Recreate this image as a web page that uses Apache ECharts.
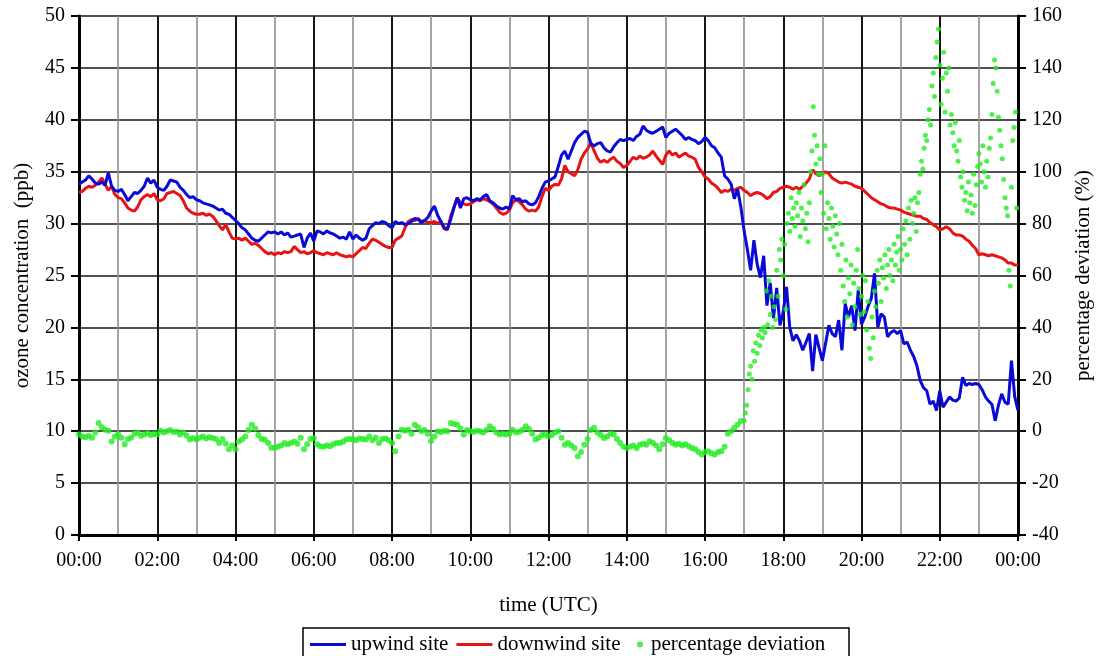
<!DOCTYPE html>
<html>
<head>
<meta charset="utf-8">
<script src="https://cdn.jsdelivr.net/npm/echarts@6/dist/echarts.min.js"></script>
<style>
  html, body { margin: 0; padding: 0; background: #fff; }
  #chart { width: 1098px; height: 656px; }
</style>
</head>
<body>
<div id="chart"></div>
<script>
// Ozone at the two sites, one value every 5 minutes from 00:00 to 24:00 (ppb)
const upwindSite = [
  33.8, 34.0, 34.2, 34.6, 34.3, 33.9, 33.8, 34.0, 33.7, 34.9, 33.6, 33.2,
  33.1, 33.3, 32.8, 32.2, 32.6, 33.0, 32.9, 33.2, 33.6, 34.4, 33.9, 34.2,
  33.5, 33.3, 33.2, 33.6, 34.2, 34.1, 34.0, 33.5, 33.2, 32.8, 32.5, 32.6,
  32.3, 32.2, 32.0, 31.9, 31.8, 31.7, 31.5, 31.3, 31.4, 31.0, 30.9, 30.6,
  30.3, 30.0, 29.6, 29.4, 29.0, 28.6, 28.4, 28.3, 28.6, 28.9, 29.2, 29.1,
  29.2, 29.0, 29.2, 28.9, 29.1, 28.7, 28.8, 28.9, 29.0, 27.7, 28.6, 29.1,
  28.3, 29.3, 29.2, 29.0, 29.3, 29.1, 29.0, 28.8, 28.6, 28.7, 28.5, 29.2,
  28.5, 28.9, 28.6, 28.4, 28.6, 29.5, 29.8, 30.1, 30.0, 30.2, 30.1, 29.8,
  29.6, 30.2, 30.0, 30.1, 29.9, 30.0, 30.2, 30.5, 30.4, 30.1, 30.3, 30.6,
  31.2, 31.7, 30.8, 30.2, 29.6, 29.5, 30.4, 31.5, 32.5, 31.5, 32.4, 32.5,
  32.3, 32.2, 32.4, 32.3, 32.6, 32.8, 32.2, 32.0, 31.7, 31.5, 31.4, 31.6,
  31.4, 32.7, 32.3, 32.4, 32.1, 32.2, 31.9, 31.8, 32.0, 32.6, 33.4, 34.0,
  34.1, 34.3, 34.5, 35.5, 36.6, 37.0, 36.2, 37.0, 37.8, 38.3, 38.6, 38.9,
  38.8, 37.7, 37.5, 37.7, 37.8, 37.3, 37.0, 36.9, 37.4, 37.8, 38.1, 38.0,
  38.1, 38.2, 38.0, 38.4, 38.6, 39.4, 39.0, 38.8, 38.7, 38.9, 39.1, 39.3,
  38.3, 38.7, 38.9, 39.1, 38.8, 38.5, 38.1, 38.3, 38.1, 38.0, 37.7, 37.9,
  38.3, 38.0, 37.5, 37.3, 36.8, 36.4, 34.6, 34.3, 33.8, 32.4, 33.3, 31.6,
  29.3, 27.5, 25.5, 28.4, 26.1, 24.8, 26.9, 22.1, 24.3, 20.9, 23.8, 20.2,
  21.5, 23.9, 20.0, 18.7, 19.3, 18.7, 17.8, 18.6, 19.4, 15.8, 19.3, 18.0,
  16.8, 18.5, 20.2, 19.4, 19.1, 20.7, 17.8, 22.3, 21.0, 22.1, 19.7, 23.6,
  20.3, 21.0, 22.0, 22.8, 25.2, 20.0, 21.3, 21.0, 19.1, 19.5, 19.7, 19.4,
  19.7, 18.4, 18.6, 17.8, 17.2, 16.3, 14.9, 14.2, 13.9, 12.6, 12.9, 12.0,
  13.9, 12.3, 12.8, 13.3, 13.0, 12.9, 13.2, 15.2, 14.4, 14.6, 14.5, 14.6,
  14.5, 14.0, 13.3, 12.9, 12.6, 11.0, 12.5, 13.6, 12.8, 12.6, 16.8, 13.3,
  12.0
];

const downwindSite = [
  33.0, 33.1, 33.4, 33.6, 33.5, 33.7, 34.0, 34.4, 33.8, 33.2, 33.6, 32.8,
  32.5, 32.4, 32.0, 31.5, 31.3, 31.2, 31.6, 32.3, 32.6, 32.8, 32.6, 32.9,
  32.3, 32.2, 32.4, 32.9, 33.0, 33.1, 32.9, 32.7, 32.2, 31.5, 31.2, 31.0,
  30.9, 30.9, 31.0, 30.8, 30.9, 30.7, 30.3, 29.8, 29.4, 29.9, 29.2, 28.6,
  28.5, 28.6, 28.4, 28.6, 28.3, 28.0, 28.1, 27.9, 27.6, 27.3, 27.1, 27.2,
  27.0, 27.2, 27.1, 27.3, 27.2, 27.3, 27.8, 27.5, 27.2, 27.3, 27.1, 27.2,
  27.4, 27.2, 27.1, 27.0, 27.2, 27.1, 27.0, 27.2, 27.0, 26.9, 26.8, 26.9,
  26.8, 27.1, 27.4, 27.7, 27.6, 28.1, 28.5, 28.4, 28.2, 28.0, 27.8, 27.7,
  27.7, 28.4, 28.6, 28.8, 29.6, 30.2, 30.4, 30.3, 30.5, 30.2, 30.3, 30.1,
  30.1, 30.2, 30.0, 30.2, 29.5, 29.4, 30.7, 31.6, 32.5, 32.0, 31.9, 31.8,
  31.9, 32.1, 32.3, 32.2, 32.4, 32.3, 32.1, 31.9, 31.5, 31.1, 30.9, 31.0,
  31.3, 32.0, 32.3, 32.1, 31.8, 31.4, 31.2, 31.3, 31.2, 31.6, 32.6, 33.4,
  33.2, 33.6, 33.8, 33.7, 34.3, 35.6, 35.0, 34.8, 34.6, 35.2, 36.2, 36.8,
  37.2, 37.8, 37.0, 36.3, 35.9, 36.1, 35.9, 36.2, 36.4, 36.0, 35.8, 35.4,
  35.6, 36.0, 36.4, 36.2, 36.5, 36.3, 36.4, 36.6, 37.0, 36.5, 36.1, 35.7,
  36.6, 37.0, 36.6, 36.8, 36.4, 36.6, 36.8, 36.5, 36.4, 36.2, 35.4, 35.0,
  34.5, 34.3, 33.9, 33.7, 33.4, 33.0, 33.2, 33.1, 33.3, 33.2, 33.4, 33.5,
  33.2, 33.0, 32.7, 32.9, 33.0, 32.9, 32.7, 32.4, 32.6, 33.0, 33.1, 33.4,
  33.5, 33.6, 33.5, 33.3, 33.5, 33.3, 33.6, 33.9, 34.3, 35.2, 34.8, 34.6,
  34.8, 35.0, 34.8, 34.4, 34.2, 34.0, 33.9, 34.0, 33.9, 33.8, 33.6, 33.5,
  33.4, 33.1, 32.8, 32.5, 32.3, 32.1, 31.9, 31.8, 31.6, 31.5, 31.5, 31.4,
  31.3, 31.1, 31.0, 30.9, 30.8, 30.7, 30.7, 30.5, 30.4, 30.1, 29.9, 29.7,
  29.4, 29.5, 29.7, 29.5, 29.1, 28.9, 28.9, 28.8, 28.5, 28.3, 27.9, 27.6,
  27.0, 27.1, 27.0, 26.9, 27.0, 26.9, 26.8, 26.7, 26.5, 26.2, 26.2, 26.0,
  26.0
];

// Percentage deviation, every 5 minutes from 00:00 to 16:55 (%)
const deviationDay = [
  -1.3, -2.0, -2.3, -1.8, -2.5, -0.5, 3.2, 1.5, 0.6, 0.2, -4.0, -2.0,
  -1.3, -2.5, -5.0, -3.0, -2.5, -1.0, -0.6, -1.8, -1.3, -0.8, -1.5, -1.2,
  -1.3, 0.2, -0.5, 0.0, 0.5, -0.3, -0.2, -1.3, -0.5, -1.8, -3.2, -2.6,
  -3.2, -2.5, -2.0, -2.8, -2.3, -2.6, -3.0, -4.5, -3.0, -4.8, -7.0, -5.5,
  -7.0, -4.0, -3.2, -2.0, 0.5, 2.5, 1.0, -1.5, -3.0, -3.2, -4.5, -6.4,
  -6.4, -6.0, -5.5, -4.5, -5.0, -4.5, -4.0, -4.8, -2.5, -7.0, -5.0, -3.0,
  -2.6, -5.0, -5.8, -6.0, -5.5, -5.8, -5.0, -4.5, -4.5, -4.0, -3.2, -3.0,
  -3.2, -3.5, -2.8, -3.0, -3.2, -2.0, -3.5, -2.5, -4.5, -3.0, -2.8, -3.5,
  -4.5, -7.7, -2.0, 0.6, 0.2, 0.6, -1.0, 2.5, 1.5, 0.0, 0.5, -1.0,
  -3.8, -2.0, 0.0, -0.3, 0.2, 0.0, 3.2, 2.8, 2.5, 1.0, -1.3, 0.5,
  0.0, -0.3, 0.2, 0.0, -0.5, 0.5, 1.9, 0.8, -0.5, -1.3, -1.0, -1.3,
  -1.0, 0.6, -0.5, -0.2, 0.5, 1.9, 0.8, -1.0, -3.2, -2.5, -1.5, -1.3,
  -2.0, -1.5, -0.5, 0.0, -2.5, -5.2, -4.5, -5.5, -6.5, -9.7, -8.0, -5.2,
  -3.0, 0.5, 1.3, -0.5, -1.5, -2.6, -2.0, -1.0, -1.3, -3.0, -4.5, -6.0,
  -6.5, -6.0, -5.5, -6.5, -5.2, -4.8, -5.2, -3.9, -4.5, -5.5, -7.0, -5.0,
  -2.6, -3.5, -4.5, -5.2, -4.8, -5.5, -5.0, -5.8, -6.5, -7.0, -8.0, -9.0,
  -8.0, -7.7, -8.5, -9.0, -8.0, -7.7, -6.0, -1.0, 0.0, 1.3, 2.5, 3.9
];

// Percentage deviation, every 2 minutes from 17:00 to 23:58 (%)
const deviationEvening = [
  4, 7, 10, 16, 22, 25, 20, 31, 27, 34, 30, 37, 33, 39, 36,
  40, 38, 54, 41, 58, 45, 52, 40, 48, 43, 62, 52, 70, 66, 74,
  60, 72, 47, 80, 84, 77, 90, 82, 86, 79, 88, 83, 92, 75, 86,
  81, 95, 78, 84, 73, 88, 100, 108, 125, 114, 103, 110, 99, 105, 92,
  99, 84, 110, 78, 88, 82, 74, 86, 79, 71, 83, 76, 68, 80, 62,
  72, 56, 50, 66, 44, 59, 53, 64, 41, 57, 48, 62, 70, 55, 45,
  52, 60, 46, 58, 39, 50, 32, 28, 44, 36, 54, 48, 62, 57, 66,
  50, 63, 59, 68, 55, 64, 70, 60, 66, 58, 72, 64, 69, 75, 62,
  70, 66, 78, 72, 81, 68, 86, 74, 89, 80, 84, 90, 77, 88, 92,
  99, 104, 101, 109, 114, 112, 120, 124, 118, 133, 138, 129, 144, 150, 155,
  141, 126, 136, 146, 123, 138, 131, 140, 118, 122, 115, 110, 119, 108, 104,
  112, 98, 94, 100, 89, 92, 85, 96, 88, 91, 84, 99, 87, 95, 102,
  107, 103, 96, 110, 100, 94, 104, 98, 109, 113, 122, 134, 143, 140, 131,
  121, 116, 110, 105, 97, 90, 86, 83, 62, 56, 94, 112, 117, 123, 86
];

// Axis ticks
const ppbTicks = { min: 0, max: 50, step: 5 };
const pctTicks = { min: -40, max: 160, step: 20 };
const hourTicks = { min: 0, max: 24, step: 2 };

const FONT = "'Liberation Serif', 'Times New Roman', serif";
const BLUE = '#0a0ad8';
const RED = '#e81414';
const GREEN = '#22ec22';

const concPairs = (arr) => arr.map((v, i) => [i * 5 / 60, v]);
const deviationPoints = deviationDay.map((v, i) => [i * 5 / 60, v])
  .concat(deviationEvening.map((v, i) => [17 + i * 2 / 60, v]));

const hourLabel = (v) => {
  const h = Math.round(v) % 24;
  return (h < 10 ? '0' : '') + h + ':00';
};

const textBase = { fontFamily: FONT, color: '#000' };

const chart = echarts.init(document.getElementById('chart'), null, { renderer: 'canvas' });

chart.setOption({
  animation: false,
  backgroundColor: '#fff',
  grid: { left: 79, right: 80, top: 16, bottom: 121, containLabel: false, outerBoundsMode: 'none' },
  xAxis: {
    type: 'value',
    min: hourTicks.min, max: hourTicks.max, interval: hourTicks.step,
    name: 'time (UTC)', nameLocation: 'middle', nameGap: 60,
    nameTextStyle: Object.assign({ fontSize: 21 }, textBase),
    axisLine: { show: true, onZero: false, lineStyle: { color: '#000', width: 3 } },
    axisTick: { show: true, length: 6, lineStyle: { color: '#000', width: 2 } },
    axisLabel: Object.assign({ fontSize: 20, margin: 16, formatter: hourLabel }, textBase),
    splitLine: { show: true, lineStyle: { color: '#161616', width: 2 } },
    minorTick: { show: false, splitNumber: 2 },
    minorSplitLine: { show: true, lineStyle: { color: '#8e8e8e', width: 1.6 } }
  },
  yAxis: [
    {
      type: 'value', position: 'left',
      min: ppbTicks.min, max: ppbTicks.max, interval: ppbTicks.step,
      name: 'ozone concentration  (ppb)', nameLocation: 'middle', nameGap: 46, nameRotate: 90,
      nameTextStyle: Object.assign({ fontSize: 21 }, textBase),
      axisLine: { show: true, onZero: false, lineStyle: { color: '#000', width: 3 } },
      axisTick: { show: true, length: 8, lineStyle: { color: '#000', width: 2 } },
      axisLabel: Object.assign({ fontSize: 20, margin: 14 }, textBase),
      splitLine: { show: true, lineStyle: { color: '#161616', width: 1.6 } }
    },
    {
      type: 'value', position: 'right',
      min: pctTicks.min, max: pctTicks.max, interval: pctTicks.step,
      name: 'percentage deviation (%)', nameLocation: 'middle', nameGap: 55, nameRotate: 90,
      nameTextStyle: Object.assign({ fontSize: 21 }, textBase),
      axisLine: { show: true, onZero: false, lineStyle: { color: '#000', width: 3 } },
      axisTick: { show: true, length: 8, lineStyle: { color: '#000', width: 2 } },
      axisLabel: Object.assign({ fontSize: 20, margin: 14 }, textBase),
      splitLine: { show: false }
    }
  ],
  legend: [
    {
      data: [
        { name: 'upwind site', icon: 'rect', itemStyle: { color: BLUE } },
        { name: 'downwind site', icon: 'rect', itemStyle: { color: RED } }
      ],
      left: 310, top: 634, padding: 0,
      itemWidth: 36, itemHeight: 3, itemGap: 8,
      textStyle: Object.assign({ fontSize: 21 }, textBase)
    },
    {
      data: [{ name: 'percentage deviation', icon: 'circle' }],
      left: 637, top: 634, padding: 0,
      itemWidth: 12, itemHeight: 6,
      textStyle: Object.assign({ fontSize: 21 }, textBase)
    }
  ],
  graphic: [
    {
      type: 'rect', silent: true,
      shape: { x: 303, y: 628, width: 546, height: 40 },
      style: { fill: 'none', stroke: '#000', lineWidth: 1.5 }
    }
  ],
  series: [
    {
      name: 'upwind site', type: 'line', yAxisIndex: 0,
      data: concPairs(upwindSite),
      showSymbol: false, symbol: 'none',
      color: BLUE,
      lineStyle: { color: BLUE, width: 3 },
      z: 3
    },
    {
      name: 'downwind site', type: 'line', yAxisIndex: 0,
      data: concPairs(downwindSite),
      showSymbol: false, symbol: 'none',
      color: RED,
      lineStyle: { color: RED, width: 3 },
      z: 2
    },
    {
      name: 'percentage deviation', type: 'scatter', yAxisIndex: 1,
      data: deviationPoints,
      symbol: 'circle',
      symbolSize: (val, params) => (params.dataIndex < deviationDay.length ? 6 : 5),
      color: GREEN,
      itemStyle: { color: GREEN },
      z: 4
    }
  ]
});
</script>
</body>
</html>
